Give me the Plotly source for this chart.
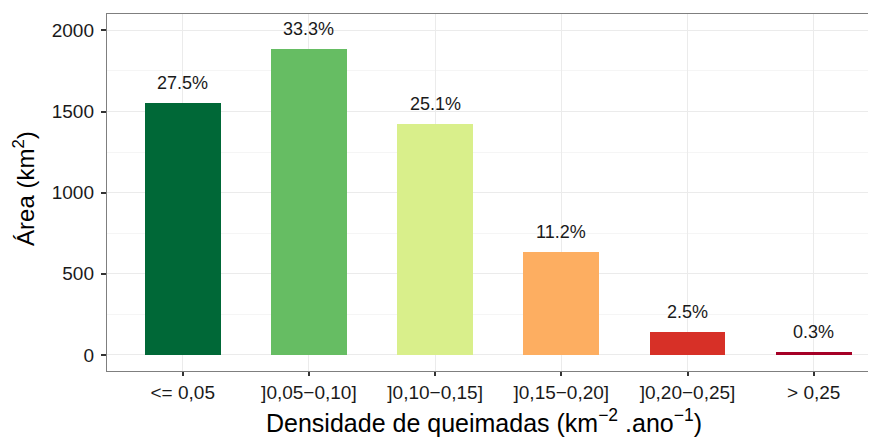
import plotly.graph_objects as go

# classes de densidade de queimadas e área (km2) de cada classe
categorias = ['<= 0,05', ']0,05\u22120,10]', ']0,10\u22120,15]', ']0,15\u22120,20]', ']0,20\u22120,25]', '> 0,25']
area_km2   = [1554, 1884, 1421, 634, 142, 17]
percentual = ['27.5%', '33.3%', '25.1%', '11.2%', '2.5%', '0.3%']
cores      = ['#006837', '#66BD63', '#D9EF8B', '#FDAE61', '#D73027', '#A50026']
y_ticks    = [0, 500, 1000, 1500, 2000]

# a página html tem margem de 8px no body -> figura 8px menor
OFF = 8
W, H = 876 - OFF, 439 - OFF
ML, MT, MB = 107 - OFF, 14 - OFF, 68
FONT = 'Liberation Sans, Arial, sans-serif'

x_idx = list(range(len(categorias)))
plot_w = W - ML
plot_h = H - MT - MB
panel_bottom = H - MB  # em px da figura

fig = go.Figure()
fig.add_trace(go.Bar(
    x=x_idx, y=area_km2, width=0.6,
    marker=dict(color=cores, line=dict(width=0)),
    showlegend=False,
    hovertemplate='%{customdata}<br>%{y} km²<extra></extra>',
    customdata=categorias,
))

annots = []
for i, (v, p) in enumerate(zip(area_km2, percentual)):
    annots.append(dict(
        x=i, y=v, text=p, showarrow=False,
        yanchor='bottom', yshift=8,
        font=dict(size=18, family=FONT, color='#1a1a1a'),
    ))

# títulos dos eixos (posição em pixels convertida para paper)
annots.append(dict(
    x=(484 - OFF - ML) / plot_w, y=(panel_bottom - (421 - OFF)) / plot_h,
    xref='paper', yref='paper',
    text='Densidade de queimadas (km<sup>\u22122</sup> .ano<sup>\u22121</sup>)',
    showarrow=False, xanchor='center', yanchor='middle',
    font=dict(size=25, family=FONT, color='#000000'),
))
annots.append(dict(
    x=(24 - OFF - ML) / plot_w, y=0.51, xref='paper', yref='paper',
    text='Área (km<sup>2</sup>)', textangle=-90,
    showarrow=False, xanchor='center', yanchor='middle',
    font=dict(size=24, family=FONT, color='#000000'),
))

fig.update_layout(
    width=W, height=H,
    margin=dict(l=ML, r=0, t=MT, b=MB, pad=0),
    paper_bgcolor='white', plot_bgcolor='white',
    font=dict(family=FONT, color='#1a1a1a'),
    annotations=annots,
    bargap=0,
    xaxis=dict(
        automargin=False,
        tickmode='array', tickvals=x_idx, ticktext=categorias,
        range=[-0.6, -0.6 + plot_w / 126.2],
        showgrid=True, gridcolor='#EBEBEB', gridwidth=1.2,
        showline=True, linecolor='#7F7F7F', linewidth=1.4, mirror=True,
        ticks='outside', ticklen=4, tickwidth=1.8, tickcolor='#333333',
        tickfont=dict(size=19, family=FONT, color='#1a1a1a'),
        zeroline=False,
    ),
    yaxis=dict(
        automargin=False,
        tickmode='array', tickvals=y_ticks,
        range=[-98.6, 2100.6],
        showgrid=True, gridcolor='#EBEBEB', gridwidth=1.2,
        minor=dict(dtick=250, tick0=250, showgrid=True, gridcolor='#F5F5F5', gridwidth=1),
        showline=True, linecolor='#7F7F7F', linewidth=1.4, mirror=False,
        ticks='outside', ticklen=5, tickwidth=1.8, tickcolor='#333333',
        ticklabelstandoff=3,
        tickfont=dict(size=19, family=FONT, color='#1a1a1a'),
        zeroline=False,
    ),
)

fig.write_html("out.html")
